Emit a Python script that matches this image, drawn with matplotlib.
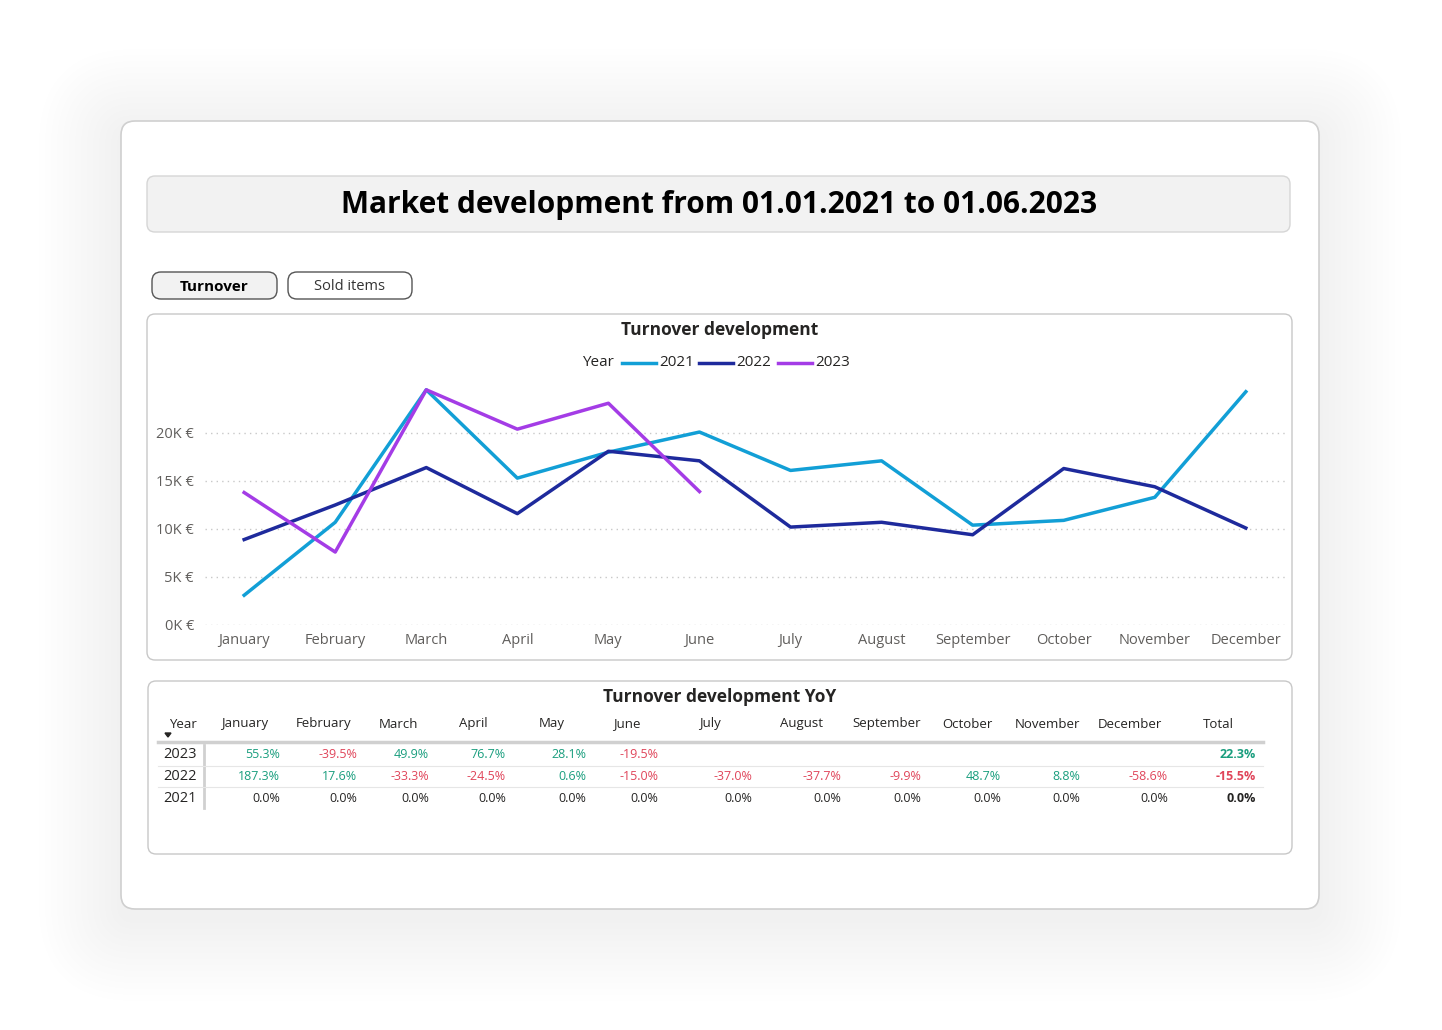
import matplotlib
matplotlib.use("Agg")
import matplotlib.pyplot as plt
from matplotlib.patches import FancyBboxPatch

months = ["January","February","March","April","May","June","July","August",
          "September","October","November","December"]
v2021 = [3.1,10.7,24.5,15.3,18.0,20.1,16.1,17.1,10.4,10.9,13.3,24.3]
v2022 = [8.9,12.5,16.4,11.6,18.1,17.1,10.2,10.7,9.4,16.3,14.4,10.1]
v2023 = [13.8,7.6,24.5,20.4,23.1,13.9]
yticks = [0,5,10,15,20]
ytick_labels = ["0K €","5K €","10K €","15K €","20K €"]

tbl_years = ["2023","2022","2021"]
tbl_vals = [
    ["55.3%","-39.5%","49.9%","76.7%","28.1%","-19.5%","","","","","","","22.3%"],
    ["187.3%","17.6%","-33.3%","-24.5%","0.6%","-15.0%","-37.0%","-37.7%","-9.9%","48.7%","8.8%","-58.6%","-15.5%"],
    ["0.0%"]*13,
]
tbl_headers = months + ["Total"]

FF = "Open Sans"
W, H = 1442, 1030
fig = plt.figure(figsize=(W/100, H/100), dpi=100)
fig.patch.set_facecolor("white")
bg = fig.add_axes([0,0,1,1])
bg.set_xlim(0, W); bg.set_ylim(H, 0); bg.axis("off")

def rbox(x0,y0,x1,y1,r,fc,ec,lw=1,alpha=1,z=1):
    bg.add_patch(FancyBboxPatch((x0,y0),x1-x0,y1-y0,boxstyle=f"round,pad=0,rounding_size={r}",
                                fc=fc,ec=ec,lw=lw,alpha=alpha,zorder=z))
# soft shadow
for i in range(14):
    d = 4+i*6
    rbox(121-d,121-d+10,1319+d,909+d+10,14+d,"#000000","none",0,alpha=0.005,z=0)
rbox(121,121,1319,909,14,"white","#cfcfcf",1.2,z=1)
rbox(147,176,1290,232,8,"#f2f2f2","#d6d6d6",1,z=2)
bg.text(719,205,"Market development from 01.01.2021 to 01.06.2023",ha="center",va="center",
        fontsize=21.5,fontweight="bold",family=FF,zorder=3)
rbox(152,272,277,299,9,"#f2f2f2","#555555",1,z=2)
bg.text(214,287,"Turnover",ha="center",va="center",fontsize=11,fontweight="bold",family=FF,zorder=3)
rbox(288,272,412,299,9,"white","#555555",1,z=2)
bg.text(350,287,"Sold items",ha="center",va="center",fontsize=10.5,family=FF,color="#333",zorder=3)
rbox(147,314,1292,660,8,"white","#c8c8c8",1,z=2)
rbox(148,681,1292,854,8,"white","#c8c8c8",1,z=2)
bg.text(720,330,"Turnover development",ha="center",va="center",fontsize=12.5,fontweight="bold",family=FF,color="#252423",zorder=3)

c21, c22, c23 = "#129fd6", "#1e2a9c", "#a43ce6"
bg.text(598,363,"Year",ha="center",va="center",fontsize=11,family=FF,color="#252423",zorder=3)
for x, c, lab in [(622,c21,"2021"),(699,c22,"2022"),(778,c23,"2023")]:
    bg.plot([x,x+34],[363,363],color=c,lw=2.5,zorder=3)
    bg.text(x+37,363,lab,ha="left",va="center",fontsize=11,family=FF,color="#252423",zorder=3)

ax = fig.add_axes([205/W, 1-625/H, 1080/W, 240/H])
ax.set_zorder(5); ax.patch.set_alpha(0)
x = list(range(12))
ax.plot(x, v2021, color=c21, lw=2.5)
ax.plot(x, v2022, color=c22, lw=2.5)
ax.plot(range(len(v2023)), v2023, color=c23, lw=2.5)
ax.set_xlim(-0.43, 11.43); ax.set_ylim(0, 25)
ax.set_yticks(yticks); ax.set_yticklabels(ytick_labels)
ax.set_xticks(x); ax.set_xticklabels(months)
for s in ax.spines.values(): s.set_visible(False)
ax.tick_params(length=0, labelsize=10.5, labelcolor="#605e5c", pad=8)
ax.tick_params(axis="x", pad=6)
for t in ax.get_xticklabels()+ax.get_yticklabels(): t.set_family(FF)
ax.grid(axis="y", color="#c8c8c8", ls=(0,(1,3)), lw=1)
ax.set_axisbelow(True)

# table
bg.text(720,697,"Turnover development YoY",ha="center",va="center",fontsize=12.5,fontweight="bold",family=FF,color="#252423",zorder=3)
hx = [245,324,398,473,552,627,710,802,887,967,1047,1130,1218]
vx = [280,357,429,506,586,658,752,841,921,1001,1080,1168,1256]
bg.text(169,724,"Year",ha="left",va="center",fontsize=9.5,family=FF,color="#252423",zorder=3)
bg.fill([165,171,168],[733,733,737],color="#252423",zorder=3)
for hxx, h in zip(hx, tbl_headers):
    bg.text(hxx,724,h,ha="center",va="center",fontsize=9.5,family=FF,color="#252423",zorder=3)
bg.plot([158,1263],[742,742],color="#d0d0d0",lw=2.5,zorder=3)
bg.plot([204,204],[745,808],color="#d0d0d0",lw=2,zorder=3)
green, red = "#1a9e7e", "#e0455a"
ys = [755,776,798]
for yy, yr, row in zip(ys, tbl_years, tbl_vals):
    bg.text(163,yy,yr,ha="left",va="center",fontsize=10.5,family=FF,color="#252423",zorder=3)
    for i,(xx,v) in enumerate(zip(vx,row)):
        if not v: continue
        col = "#252423" if v == "0.0%" else (red if v.startswith("-") else green)
        bg.text(xx,yy,v,ha="right",va="center",fontsize=9,family=FF,color=col,
                fontweight="bold" if i==12 else "normal",zorder=3)
    if yy != 798:
        bg.plot([158,1263],[yy+11,yy+11],color="#e6e6e6",lw=0.8,zorder=3)

fig.savefig("out.png", dpi=100)
